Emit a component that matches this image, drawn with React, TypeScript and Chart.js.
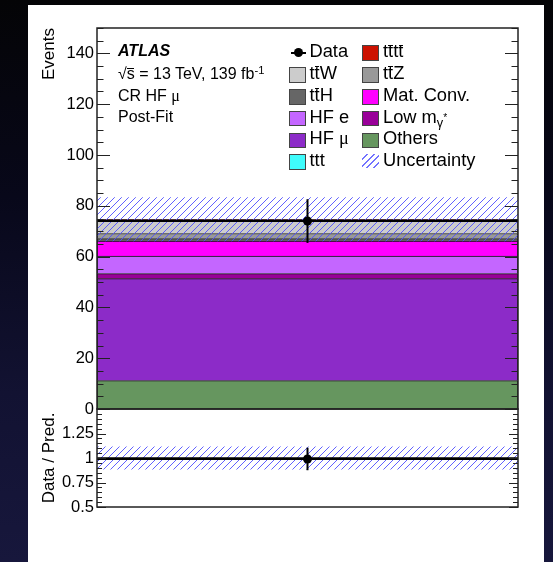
import React, { useEffect, useRef } from 'react';
import { Chart, registerables } from 'chart.js';

Chart.register(...registerables);

const SANS = "'Liberation Sans', Arial, Helvetica, sans-serif";
const SERIF = "'Liberation Serif', 'Times New Roman', serif";

// Single bin of the control region
const regionLabels = ['CR HF μ'];

// Post-fit predicted yields, listed from the bottom of the stack upwards
const sampleKeys = ['Others', 'HF mu', 'Low mgamma', 'HF e', 'Mat. Conv.', 'ttH', 'ttZ', 'ttW', 'tttt', 'ttt'];
const sampleYields = [11.2, 40.1, 2.0, 6.9, 5.9, 1.0, 2.0, 5.5, 0.1, 0.02];
const sampleColors = ['#66965f', '#8c2bc8', '#990099', '#c466ff', '#ff00ff', '#666666', '#999999', '#cccccc', '#cc1100', '#3ffcfc'];

// Observed events and their statistical error
const dataYields = [74];
const dataErrors = [8.6];

// Total post-fit uncertainty on the prediction
const predictionUncertainty = [8.55];

// Axis ranges and labelled ticks
const eventsRange = [0, 150];
const eventsMajorTicks = [0, 20, 40, 60, 80, 100, 120, 140];
const eventsMinorStep = 5;
const ratioRange = [0.5, 1.5];
const ratioMajorTicks = [0.5, 0.75, 1, 1.25];
const ratioMinorStep = 0.05;

const totalYield = sampleYields.reduce((a, b) => a + b, 0);
const stackEdges = sampleYields.map((v, i) => {
  const lo = sampleYields.slice(0, i).reduce((a, b) => a + b, 0);
  return [lo, lo + v];
});

function makeHatch(): CanvasPattern | string {
  const c = document.createElement('canvas');
  const s = 7;
  c.width = s;
  c.height = s;
  const g = c.getContext('2d');
  if (!g) return 'rgba(90,90,255,0.3)';
  g.strokeStyle = 'rgba(80, 80, 255, 0.9)';
  g.lineWidth = 1;
  g.beginPath();
  g.moveTo(-1, s + 1);
  g.lineTo(s + 1, -1);
  g.moveTo(-1, 1);
  g.lineTo(1, -1);
  g.moveTo(s - 1, s + 1);
  g.lineTo(s + 1, s - 1);
  g.stroke();
  return g.createPattern(c, 'repeat') || 'rgba(90,90,255,0.3)';
}

// Frame around the plot area with ROOT-style inward ticks on both sides
function frameTicks(majors: number[], minorStep: number, majorLen: number, minorLen: number) {
  return {
    id: 'frameTicks',
    afterDatasetsDraw(chart: any) {
      const { ctx, chartArea: a, scales } = chart;
      const y = scales.y;
      ctx.save();
      ctx.strokeStyle = '#222';
      ctx.lineWidth = 1;
      const n = Math.round((y.max - y.min) / minorStep);
      for (let k = 0; k <= n; k++) {
        const v = y.min + k * minorStep;
        const isMajor = majors.some((m) => Math.abs(m - v) < 1e-6);
        const len = isMajor ? majorLen : minorLen;
        const py = Math.round(y.getPixelForValue(v)) + 0.5;
        ctx.beginPath();
        ctx.moveTo(a.left, py);
        ctx.lineTo(a.left + len, py);
        ctx.moveTo(a.right, py);
        ctx.lineTo(a.right - len, py);
        ctx.stroke();
      }
      ctx.lineWidth = 1.5;
      ctx.strokeStyle = '#222';
      ctx.strokeRect(a.left, a.top, a.right - a.left, a.bottom - a.top);
      ctx.restore();
    },
  };
}

function dataMarks(value: number, err: number) {
  return [
    {
      type: 'line',
      xAxisID: 'xp',
      data: [{ x: 0.5, y: value }],
      showLine: false,
      pointRadius: 4.5,
      pointBackgroundColor: '#000',
      pointBorderColor: '#000',
      pointBorderWidth: 0,
      order: 0,
    },
    {
      type: 'line',
      xAxisID: 'xp',
      data: [{ x: 0.5, y: value - err }, { x: 0.5, y: value + err }],
      borderColor: '#000',
      borderWidth: 2,
      pointRadius: 0,
      order: 1,
    },
    {
      type: 'line',
      xAxisID: 'xp',
      data: [{ x: 0, y: value }, { x: 1, y: value }],
      borderColor: '#000',
      borderWidth: 2,
      pointRadius: 0,
      order: 2,
    },
  ];
}

function yAxis(range: number[], majors: number[], title: string, align: string, tickSize: number) {
  return {
    min: range[0],
    max: range[1],
    afterFit: (s: any) => {
      s.width = 57;
      s.paddingTop = 0;
      s.paddingBottom = 0;
    },
    afterBuildTicks: (s: any) => {
      s.ticks = majors.map((v) => ({ value: v }));
    },
    grid: { display: false, drawTicks: false },
    border: { display: false },
    ticks: {
      color: '#000',
      font: { family: SANS, size: tickSize },
      padding: 3,
      autoSkip: false,
      callback: (v: any) => String(v),
    },
    title: {
      display: true,
      text: title,
      align,
      color: '#000',
      font: { family: SANS, size: 17, lineHeight: 1 },
      padding: { top: 0.5, bottom: 0 },
    },
  };
}

const xpAxis = { type: 'linear', display: false, min: 0, max: 1, offset: false };

function MainPlot() {
  const ref = useRef<HTMLCanvasElement>(null);
  useEffect(() => {
    if (!ref.current) return;
    const hatch = makeHatch();
    const u = predictionUncertainty[0];
    const chart = new Chart(ref.current, {
      type: 'bar',
      data: {
        labels: regionLabels,
        datasets: [
          ...dataMarks(dataYields[0], dataErrors[0]),
          {
            type: 'bar',
            label: 'Uncertainty',
            data: [[totalYield - u, totalYield + u]],
            backgroundColor: hatch,
            borderWidth: 0,
            order: 3,
          },
          ...sampleKeys.map((k, i) => ({
            type: 'bar',
            label: k,
            data: [stackEdges[i]],
            backgroundColor: sampleColors[i],
            borderColor: '#111',
            borderWidth: 1,
            order: 4 + i,
          })),
        ],
      } as any,
      options: {
        responsive: false,
        animation: false,
        layout: { padding: { left: 0, right: 12, top: 8, bottom: 11 } },
        plugins: { legend: { display: false }, tooltip: { enabled: false } },
        datasets: { bar: { grouped: false, barPercentage: 1, categoryPercentage: 1 } },
        scales: {
          x: { display: false },
          xp: xpAxis,
          y: yAxis(eventsRange, eventsMajorTicks, 'Events', 'end', 16.5),
        },
      } as any,
      plugins: [frameTicks(eventsMajorTicks, eventsMinorStep, 13, 6.5)],
    });
    return () => chart.destroy();
  }, []);
  return (
    <canvas
      ref={ref}
      width={490}
      height={400}
      style={{ position: 'absolute', left: 40, top: 20, width: 490, height: 400 }}
    />
  );
}

function RatioPlot() {
  const ref = useRef<HTMLCanvasElement>(null);
  useEffect(() => {
    if (!ref.current) return;
    const hatch = makeHatch();
    const rel = predictionUncertainty[0] / totalYield;
    const ratio = dataYields[0] / totalYield;
    const ratioErr = dataErrors[0] / totalYield;
    const chart = new Chart(ref.current, {
      type: 'bar',
      data: {
        labels: regionLabels,
        datasets: [
          ...dataMarks(ratio, ratioErr),
          {
            type: 'line',
            xAxisID: 'xp',
            data: [{ x: 0, y: 1 }, { x: 1, y: 1 }],
            borderColor: '#000',
            borderWidth: 1.5,
            pointRadius: 0,
            order: 3,
          },
          {
            type: 'bar',
            data: [[1 - rel, 1 + rel]],
            backgroundColor: hatch,
            borderWidth: 0,
            order: 4,
          },
        ],
      } as any,
      options: {
        responsive: false,
        animation: false,
        layout: { padding: { left: 0, right: 12, top: 9, bottom: 13 } },
        plugins: { legend: { display: false }, tooltip: { enabled: false } },
        datasets: { bar: { grouped: false, barPercentage: 1, categoryPercentage: 1 } },
        scales: {
          x: { display: false },
          xp: xpAxis,
          y: yAxis(ratioRange, ratioMajorTicks, 'Data / Pred.', 'center', 16.5),
        },
      } as any,
      plugins: [frameTicks([...ratioMajorTicks, ratioRange[1]], ratioMinorStep, 9, 5)],
    });
    return () => chart.destroy();
  }, []);
  return (
    <canvas
      ref={ref}
      width={490}
      height={120}
      style={{ position: 'absolute', left: 40, top: 400, width: 490, height: 120 }}
    />
  );
}

// Antiparticle bar drawn just above the letter
const Bar = ({ children }: { children: any }) => (
  <span style={{ position: 'relative', display: 'inline-block' }}>
    {children}
    <span
      style={{
        position: 'absolute',
        left: '0.02em',
        right: '0.02em',
        top: '0.13em',
        height: 1,
        background: '#000',
      }}
    />
  </span>
);
const Mu = () => <span style={{ fontFamily: SERIF }}>μ</span>;

// Text placed by its baseline
function Label({ x, y, size, children, style }: any) {
  return (
    <div
      style={{
        position: 'absolute',
        left: x,
        top: y - 0.8465 * size,
        fontSize: size,
        lineHeight: `${size}px`,
        fontFamily: SANS,
        color: '#000',
        whiteSpace: 'nowrap',
        ...style,
      }}
    >
      {children}
    </div>
  );
}

const LEG_SIZE = 18.3;
const legendRows = [57.7, 79.6, 101.5, 123.2, 144.9, 166.3];

const legendLeft = [
  { kind: 'data', text: <>Data</> },
  { kind: 'box', color: sampleColors[7], text: <>t<Bar>t</Bar>W</> },
  { kind: 'box', color: sampleColors[5], text: <>t<Bar>t</Bar>H</> },
  { kind: 'box', color: sampleColors[3], text: <>HF e</> },
  { kind: 'box', color: sampleColors[1], text: <>HF <Mu /></> },
  { kind: 'box', color: sampleColors[9], text: <>ttt</> },
];
const legendRight = [
  { kind: 'box', color: sampleColors[8], text: <>t<Bar>t</Bar>t<Bar>t</Bar></> },
  { kind: 'box', color: sampleColors[6], text: <>t<Bar>t</Bar>Z</> },
  { kind: 'box', color: sampleColors[4], text: <>Mat. Conv.</> },
  {
    kind: 'box',
    color: sampleColors[2],
    text: (
      <>
        Low m
        <span style={{ position: 'relative', top: '0.3em', fontSize: '0.7em' }}>
          γ<span style={{ position: 'relative', top: '-0.55em', fontSize: '0.8em' }}>*</span>
        </span>
      </>
    ),
  },
  { kind: 'box', color: sampleColors[0], text: <>Others</> },
  { kind: 'hatch', text: <>Uncertainty</> },
];

function LegendColumn({ entries, boxX, textX }: any) {
  return (
    <>
      {entries.map((e: any, i: number) => {
        const base = legendRows[i];
        const top = base - 12.3;
        let symbol = null;
        if (e.kind === 'box') {
          symbol = (
            <div
              style={{
                position: 'absolute',
                left: boxX,
                top,
                width: 16.5,
                height: 15.5,
                boxSizing: 'border-box',
                background: e.color,
                border: '1px solid #444',
              }}
            />
          );
        } else if (e.kind === 'hatch') {
          symbol = (
            <div
              style={{
                position: 'absolute',
                left: boxX,
                top,
                width: 16.5,
                height: 14,
                background:
                  'repeating-linear-gradient(135deg, rgba(255,255,255,0) 0px, rgba(255,255,255,0) 3.5px, rgba(90,90,255,0.85) 3.5px, rgba(90,90,255,0.85) 4.6px)',
              }}
            />
          );
        } else {
          symbol = (
            <>
              <div
                style={{ position: 'absolute', left: boxX + 1.5, top: base - 5.6, width: 15, height: 2, background: '#000' }}
              />
              <div
                style={{
                  position: 'absolute',
                  left: boxX + 4.5,
                  top: base - 9.6,
                  width: 9,
                  height: 9,
                  borderRadius: '50%',
                  background: '#000',
                }}
              />
            </>
          );
        }
        return (
          <React.Fragment key={i}>
            {symbol}
            <Label x={textX} y={base} size={LEG_SIZE}>
              {e.text}
            </Label>
          </React.Fragment>
        );
      })}
    </>
  );
}

export default function App() {
  return (
    <div
      style={{
        position: 'fixed',
        inset: 0,
        overflow: 'hidden',
        background: 'linear-gradient(180deg, #040406 0%, #08081a 35%, #121232 70%, #17173c 100%)',
      }}
    >
      <div style={{ position: 'absolute', left: 28, top: 5, width: 516, height: 600, background: '#fff' }} />
      <MainPlot />
      <RatioPlot />
      <Label x={118} y={56.7} size={16} style={{ fontWeight: 'bold', fontStyle: 'italic' }}>
        ATLAS
      </Label>
      <Label x={118} y={79.3} size={16}>
        √<Bar>s</Bar> = 13 TeV, 139 fb
        <span style={{ position: 'relative', top: '-0.45em', fontSize: '0.7em' }}>-1</span>
      </Label>
      <Label x={118} y={101.5} size={16}>
        CR HF <Mu />
      </Label>
      <Label x={118} y={122.7} size={16}>
        Post-Fit
      </Label>
      <LegendColumn entries={legendLeft} boxX={289} textX={309.5} />
      <LegendColumn entries={legendRight} boxX={362} textX={383} />
    </div>
  );
}
